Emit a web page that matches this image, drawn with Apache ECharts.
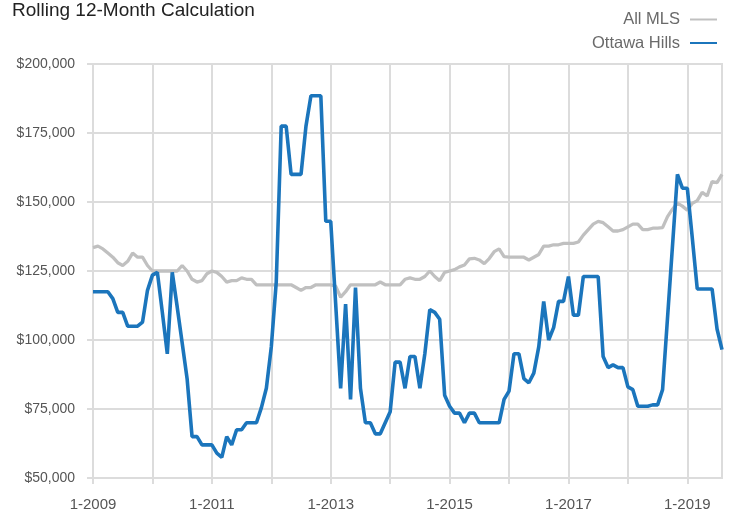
<!DOCTYPE html>
<html>
<head>
<meta charset="utf-8">
<script src="https://cdn.jsdelivr.net/npm/echarts@6/dist/echarts.min.js"></script>
<style>
  html, body { margin: 0; padding: 0; background: #ffffff; }
  #chart { width: 729px; height: 514px; }
</style>
</head>
<body>
<div id="chart"></div>
<script>
// Monthly categories, 1-2009 through 8-2019
const startYear = 2009;
const monthCount = 128;
const months = [];
for (let i = 0; i < monthCount; i++) {
  months.push(((i % 12) + 1) + '-' + (startYear + Math.floor(i / 12)));
}

// Rolling 12-month average sale price, all MLS
const allMLS = [
  133500, 134000, 133000, 131500, 130000, 128000, 127000, 128500, 131500, 130000, 130000, 127000,
  125000, 125000, 125000, 125000, 125000, 125000, 127000, 125000, 122000, 121000, 121500, 124000,
  125000, 124500, 123000, 121000, 121500, 121500, 122500, 122000, 122000, 120000, 120000, 120000,
  120000, 120000, 120000, 120000, 120000, 119000, 118000, 119000, 119000, 120000, 120000, 120000,
  120000, 119500, 115500, 117500, 120000, 120000, 120000, 120000, 120000, 120000, 121000, 120000,
  120000, 120000, 120000, 122000, 122500, 122000, 122000, 123000, 125000, 123000, 121500, 124500,
  125000, 125500, 126500, 127200, 129400, 129600, 129000, 127700, 129500, 132000, 133000, 130200,
  130000, 130000, 130000, 130000, 129000, 130000, 131000, 134000, 134000, 134500, 134500, 135000,
  135000, 135000, 135500, 138000, 140000, 142000, 143000, 142500, 141000, 139500, 139500, 140000,
  141000, 142000, 142000, 140000, 140000, 140500, 140500, 140700, 144700, 147400, 149600, 148500,
  147000, 149500, 150500, 153500, 152200, 157400, 157000, 160000
];

// Rolling 12-month average sale price, Ottawa Hills
const ottawaHills = [
  117500, 117500, 117500, 117500, 115000, 110000, 110000, 105000, 105000, 105000, 106500, 118000,
  123500, 124500, 110000, 95000, 124500, 112000, 99000, 86000, 65000, 65000, 62000, 62000,
  62000, 59000, 57500, 65000, 62000, 67500, 67500, 70000, 70000, 70000, 75500, 82500,
  97500, 121000, 177500, 177500, 160000, 160000, 160000, 177500, 188500, 188500, 188500, 143000,
  143000, 113000, 82500, 113000, 78500, 119000, 82500, 70000, 70000, 66000, 66000, 70000,
  74000, 92000, 92000, 82500, 94000, 94000, 82500, 95000, 111000, 110000, 107500, 80000,
  76000, 73500, 73500, 70000, 73500, 73500, 70000, 70000, 70000, 70000, 70000, 78500,
  81500, 95000, 95000, 86000, 84500, 88000, 97500, 114000, 100000, 104500, 114000, 114000,
  123000, 109000, 109000, 123000, 123000, 123000, 123000, 94000, 90000, 91000, 90000, 90000,
  83000, 82000, 76000, 76000, 76000, 76500, 76500, 82000, 108000, 134000, 160000, 155000,
  155000, 137000, 118500, 118500, 118500, 118500, 104000, 96500
];

// Y axis range and step
const yMin = 50000;
const yMax = 200000;
const yStep = 25000;

const gridColor = '#dcdcdc';
const fontFamily = '"Liberation Sans", Arial, sans-serif';

const chart = echarts.init(document.getElementById('chart'), null, { renderer: 'canvas' });

chart.setOption({
  animation: false,
  backgroundColor: '#ffffff',
  textStyle: { fontFamily: fontFamily },
  title: {
    text: 'Rolling 12-Month Calculation',
    left: 12,
    top: 1,
    padding: 0,
    textStyle: { fontSize: 19, fontWeight: 'normal', color: '#222222', fontFamily: fontFamily }
  },
  legend: {
    orient: 'vertical',
    align: 'right',
    right: 12,
    top: 11,
    padding: 0,
    itemGap: 6.5,
    itemWidth: 27,
    itemHeight: 2,
    icon: 'rect',
    textStyle: { fontSize: 16.5, color: '#6a6a6a', fontFamily: fontFamily, padding: [0, 5, 0, 0] },
    data: ['All MLS', 'Ottawa Hills']
  },
  grid: {
    left: 93,
    right: 7,
    top: 64,
    bottom: 36,
    show: true,
    borderColor: gridColor,
    borderWidth: 2,
    containLabel: false
  },
  xAxis: {
    type: 'category',
    data: months,
    boundaryGap: false,
    axisLine: { show: true, lineStyle: { color: gridColor, width: 2 } },
    axisTick: { show: true, interval: 11, length: 6, lineStyle: { color: gridColor, width: 2 } },
    axisLabel: {
      interval: 23,
      margin: 19,
      fontSize: 15,
      color: '#555555',
      fontFamily: fontFamily
    },
    splitLine: { show: true, interval: 11, lineStyle: { color: gridColor, width: 2 } }
  },
  yAxis: {
    type: 'value',
    min: yMin,
    max: yMax,
    interval: yStep,
    axisLine: { show: true, lineStyle: { color: gridColor, width: 2 } },
    axisTick: { show: true, length: 6, lineStyle: { color: gridColor, width: 2 } },
    axisLabel: {
      margin: 18,
      fontSize: 14,
      color: '#555555',
      fontFamily: fontFamily,
      formatter: function (v) { return '$' + v.toLocaleString('en-US'); }
    },
    splitLine: { show: true, lineStyle: { color: gridColor, width: 2 } }
  },
  series: [
    {
      name: 'All MLS',
      type: 'line',
      data: allMLS,
      color: '#c0c0c0',
      showSymbol: false,
      symbol: 'none',
      lineStyle: { width: 3.3, color: '#c0c0c0' },
      z: 2
    },
    {
      name: 'Ottawa Hills',
      type: 'line',
      data: ottawaHills,
      color: '#1b75bc',
      showSymbol: false,
      symbol: 'none',
      lineStyle: { width: 3.6, color: '#1b75bc' },
      z: 3
    }
  ]
});
</script>
</body>
</html>
